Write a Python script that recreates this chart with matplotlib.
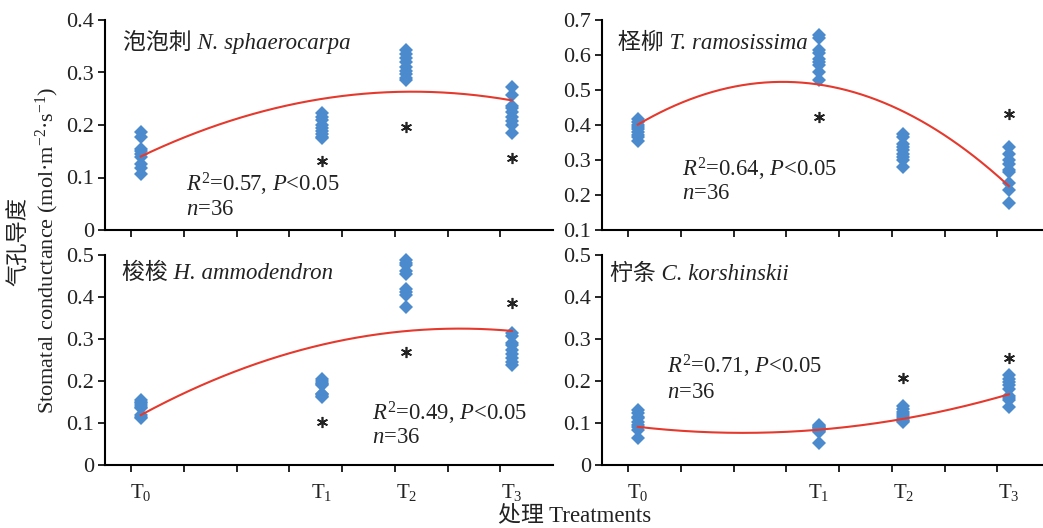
import numpy as np
import matplotlib
matplotlib.use("Agg")
import matplotlib.pyplot as plt

plt.rcParams['font.family'] = ['Liberation Serif', 'Noto Sans CJK SC']
plt.rcParams['mathtext.fontset'] = 'custom'
plt.rcParams['mathtext.rm'] = 'Liberation Serif'
plt.rcParams['mathtext.it'] = 'Liberation Serif:italic'

# ----- data -----
treatments = ['T$_0$', 'T$_1$', 'T$_2$', 'T$_3$']
treat_x = [0.18, 3.61, 5.22, 7.22]   # position of each treatment on the x scale

species = ['泡泡刺 N. sphaerocarpa', '柽柳 T. ramosissima',
           '梭梭 H. ammodendron', '柠条 C. korshinskii']
stats = ['$R^2$=0.57, $P$<0.05', '$R^2$=0.64, $P$<0.05',
         '$R^2$=0.49, $P$<0.05', '$R^2$=0.71, $P$<0.05']

# stomatal conductance, 9 samples per treatment
gs_nsph = [
    [0.187, 0.178, 0.155, 0.150, 0.145, 0.140, 0.125, 0.118, 0.107],
    [0.222, 0.215, 0.210, 0.200, 0.195, 0.188, 0.183, 0.178, 0.176],
    [0.342, 0.335, 0.328, 0.320, 0.310, 0.302, 0.297, 0.290, 0.285],
    [0.272, 0.258, 0.237, 0.232, 0.225, 0.215, 0.208, 0.200, 0.184],
]
gs_tram = [
    [0.418, 0.410, 0.400, 0.395, 0.388, 0.380, 0.372, 0.365, 0.355],
    [0.657, 0.648, 0.614, 0.605, 0.590, 0.581, 0.571, 0.552, 0.529],
    [0.373, 0.365, 0.345, 0.338, 0.330, 0.318, 0.310, 0.300, 0.281],
    [0.337, 0.318, 0.300, 0.290, 0.272, 0.265, 0.235, 0.215, 0.178],
]
gs_hamm = [
    [0.155, 0.150, 0.147, 0.143, 0.139, 0.135, 0.118, 0.115, 0.112],
    [0.205, 0.200, 0.195, 0.192, 0.190, 0.170, 0.168, 0.165, 0.163],
    [0.488, 0.480, 0.476, 0.462, 0.455, 0.420, 0.412, 0.405, 0.377],
    [0.315, 0.308, 0.290, 0.285, 0.274, 0.265, 0.255, 0.245, 0.238],
]
gs_ckor = [
    [0.131, 0.123, 0.115, 0.111, 0.103, 0.095, 0.091, 0.083, 0.064],
    [0.096, 0.094, 0.090, 0.088, 0.087, 0.083, 0.080, 0.078, 0.053],
    [0.140, 0.133, 0.127, 0.122, 0.117, 0.112, 0.108, 0.104, 0.102],
    [0.215, 0.205, 0.198, 0.190, 0.181, 0.165, 0.160, 0.155, 0.137],
]

# asterisks (treatment index, y)
stars_nsph = [(1, 0.132), (2, 0.197), (3, 0.138)]
stars_tram = [(1, 0.422), (3, 0.431)]
stars_hamm = [(1, 0.102), (2, 0.270), (3, 0.385)]
stars_ckor = [(2, 0.208), (3, 0.255)]

# quadratic regression curve, read at a few x positions
curve_x_nsph = [0.18, 3.61, 5.22, 7.22]
curve_y_nsph = [0.140, 0.250, 0.263, 0.247]
curve_x_tram = [0.18, 3.0, 3.61, 5.22, 7.22]
curve_y_tram = [0.402, 0.521, 0.514, 0.443, 0.224]
curve_x_hamm = [0.18, 3.61, 5.22, 6.1, 7.22]
curve_y_hamm = [0.119, 0.286, 0.319, 0.325, 0.319]
curve_x_ckor = [0.18, 2.5, 3.61, 5.22, 7.22]
curve_y_ckor = [0.091, 0.077, 0.083, 0.111, 0.168]

ylims = [(0, 0.4), (0.1, 0.7), (0, 0.5), (0, 0.5)]
stat_pos = [(0.181, 0.181, 0.071), (0.178, 0.254, 0.146),
            (0.597, 0.214, 0.103), (0.144, 0.437, 0.320)]
title_pos = [(0.040, 0.862), (0.036, 0.862), (0.038, 0.888), (0.018, 0.882)]

panels = [
    (gs_nsph, stars_nsph, curve_x_nsph, curve_y_nsph),
    (gs_tram, stars_tram, curve_x_tram, curve_y_tram),
    (gs_hamm, stars_hamm, curve_x_hamm, curve_y_hamm),
    (gs_ckor, stars_ckor, curve_x_ckor, curve_y_ckor),
]

blue = '#4b8bcd'
red = '#e5392d'
ink = '#222222'

fig = plt.figure(figsize=(10.43, 5.28), dpi=100)
W, H = 1043, 528
boxes = [(105, 20), (602, 20), (105, 255), (602, 255)]

for i, (data, stars, cx, cy) in enumerate(panels):
    left, top = boxes[i]
    ax = fig.add_axes([left / W, 1 - (top + 210) / H, 448 / W, 210 / H])

    for j, vals in enumerate(data):
        ax.plot([treat_x[j]] * len(vals), vals, 'D', color=blue,
                markersize=7, markeredgewidth=0, clip_on=False, zorder=3)

    coef = np.polyfit(cx, cy, 2)
    xs = np.linspace(treat_x[0], treat_x[-1], 200)
    ax.plot(xs, np.polyval(coef, xs), color=red, lw=1.5, zorder=4)

    # significance asterisks as six-armed markers
    sx_ = [treat_x[j] for j, _ in stars]
    sy_ = [y for _, y in stars]
    ax.plot(sx_, sy_, ls='none', marker=(6, 2, 0), markersize=8,
            markeredgewidth=1.2, color=ink, zorder=3)

    ax.set_xlim(-0.5, 8)
    lo, hi = ylims[i]
    ax.set_ylim(lo, hi)
    yt = np.arange(lo, hi + 0.001, 0.1)
    ax.set_yticks(yt, ['0' if abs(v) < 1e-9 else '%.1f' % v for v in yt])

    ax.set_xticks(range(8), minor=True)
    if i >= 2:
        ax.set_xticks(treat_x, treatments)
    else:
        ax.set_xticks(treat_x, [''] * 4)
    ax.tick_params(axis='x', which='major', length=0, pad=12, labelsize=15,
                   labelcolor=ink)
    ax.tick_params(axis='x', which='minor', length=5, width=1.2, direction='out')
    ax.tick_params(axis='y', length=5, width=1.2, direction='out', pad=3,
                   labelsize=16, labelcolor=ink)

    for s in ['top', 'right']:
        ax.spines[s].set_visible(False)
    for s in ['left', 'bottom']:
        ax.spines[s].set_linewidth(1.5)
    ax.patch.set_alpha(0)

    tx, ty = title_pos[i]
    ax.text(tx, ty, species[i], transform=ax.transAxes, fontsize=16.5,
            style='italic', color=ink)
    sx, sy1, sy2 = stat_pos[i]
    ax.text(sx, sy1, stats[i], transform=ax.transAxes, fontsize=16.3,
            color=ink)
    ax.text(sx, sy2, '$n$=36', transform=ax.transAxes, fontsize=16.3,
            color=ink)

fig.text(20 / W, 1 - 241 / H, '气孔导度', rotation=90, ha='center', va='center',
         fontsize=16, color=ink)
fig.text(47 / W, 1 - 250 / H, 'Stomatal conductance (mol·m$^{-2}$·s$^{-1}$)',
         rotation=90, ha='center', va='center', fontsize=16, color=ink)
fig.text(575 / W, 1 - 516 / H, '处理 Treatments', ha='center', va='center',
         fontsize=16.5, color=ink)

fig.savefig('out.png', dpi=100)
